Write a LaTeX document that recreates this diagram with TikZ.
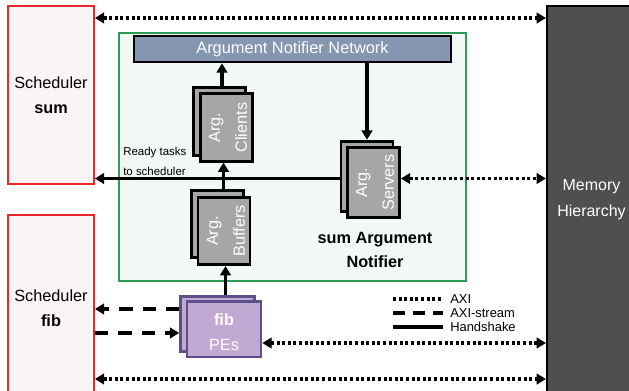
\documentclass[tikz,border=0pt]{standalone}
\usepackage{fontspec}
\setmainfont{Liberation Sans}
\usetikzlibrary{arrows.meta}
\definecolor{schedfill}{HTML}{FBF4F4}
\definecolor{schedline}{HTML}{E8262B}
\definecolor{greenfill}{HTML}{F2F8F4}
\definecolor{greenline}{HTML}{2E9A55}
\definecolor{netfill}{HTML}{8496B0}
\definecolor{memfill}{HTML}{4F4F4F}
\definecolor{grayfill}{HTML}{A6A6A6}
\definecolor{pefill}{HTML}{C2A9D3}
\definecolor{peline}{HTML}{5C5088}
\tikzset{
  sched/.style={draw=schedline, fill=schedfill, line width=1.3pt, align=center, font=\fontsize{12.2}{19}\selectfont, inner sep=0pt},
  graybox/.style={draw=black, fill=grayfill, line width=2.1pt, minimum width=39pt, minimum height=50.5pt, inner sep=0pt},
  graytext/.style={text=white, rotate=90, align=center, font=\fontsize{12.2}{20}\selectfont},
  pebox/.style={draw=peline, fill=pefill, line width=2pt, minimum width=55.5pt, minimum height=41.5pt, inner sep=0pt},
  tip/.style={},
  hs/.style={line width=2.8pt, -{Triangle[length=7pt,width=8pt]}},
  axi/.style={line width=2.8pt, dash pattern=on 2.2pt off 2pt, {Triangle[length=7pt,width=8pt]}-{Triangle[length=7pt,width=8pt]}},
  axis/.style={line width=2.8pt, dash pattern=on 10pt off 7.5pt, -{Triangle[length=7pt,width=8pt]}},
}
\begin{document}
\begin{tikzpicture}[x=0.75pt,y=-0.75pt]
\useasboundingbox (0,0) rectangle (629,391);
% outer blocks
\node[sched, minimum width=64.5pt, minimum height=133.5pt] (sumS) at (51,95) {Scheduler\\\textbf{sum}};
\node[sched, minimum width=64.5pt, minimum height=137.25pt] (fibS) at (51,306.5) {};
\node[font=\fontsize{12.2}{19}\selectfont, align=center] (fibT) at (51,308) {Scheduler\\\textbf{fib}};
\node[draw=black, fill=memfill, line width=1.6pt, minimum width=66pt, minimum height=294pt, inner sep=0pt] (mem) at (591,202) {};
\node[text=white, align=center, font=\fontsize{12}{19.5}\selectfont] (memT) at (591.5,200) {Memory\\Hierarchy};
% green notifier box
\node[draw=greenline, fill=greenfill, line width=1.3pt, minimum width=260.25pt, minimum height=186pt, inner sep=0pt] (notif) at (292.5,157) {};
\node[draw=black, fill=netfill, line width=2pt, minimum width=237.75pt, minimum height=19.5pt, inner sep=0pt, text=white, font=\fontsize{12.3}{14}\selectfont] (net) at (292.5,49) {Argument Notifier Network};
\node[align=center, font=\bfseries\fontsize{12.2}{18}\selectfont] (notifT) at (375,250) {sum Argument\\Notifier};
% clients
\node[graybox] (cliB) at (219.5,121.5) {};
\node[graybox] (cliF) at (226.5,127.5) {};
\node[graytext] (cliT) at (228,127.5) {Arg.\\Clients};
% buffers
\node[graybox] (bufB) at (217.5,224) {};
\node[graybox] (bufF) at (224,231) {};
\node[graytext] (bufT) at (226,231) {Arg.\\Buffers};
% servers
\node[graybox, minimum height=53pt] (srvB) at (367,176.5) {};
\node[graybox, minimum height=53pt] (srvF) at (373.5,182.5) {};
\node[graytext] (srvT) at (375,182.5) {Arg.\\Servers};
% PEs
\node[pebox] (peB) at (217.5,324) {};
\node[pebox] (peF) at (224,329.5) {};
\node[text=white, align=center, font=\fontsize{12.2}{19}\selectfont] (peT) at (224,332) {\textbf{fib}\\PEs};
% helper coordinates
\coordinate (ytop) at (0,18);
\coordinate (yrt) at (0,178.5);
\coordinate (ysa) at (0,309);
\coordinate (ysb) at (0,333);
\coordinate (ype) at (0,343);
\coordinate (ybot) at (0,379);
\coordinate (xc) at (222,0);
\coordinate (xb) at (223.5,0);
\coordinate (xp) at (225.5,0);
% handshake connectors
\draw[hs] (cliB.north -| xc) -- (net.south -| xc);
\draw[hs] (srvB.north |- net.south) -- (srvB.north);
\draw[hs] (bufB.north -| xb) -- (cliF.south -| xb);
\draw[hs] (peB.north -| xp) -- (bufF.south -| xp);
\draw[hs] (srvB.west |- yrt) -- (sumS.east |- yrt);
\node[anchor=south west, font=\fontsize{8.6}{10}\selectfont, inner sep=0pt] (rt1) at (123,158) {Ready tasks};
\node[anchor=south west, font=\fontsize{8.6}{10}\selectfont, inner sep=0pt] (rt2) at (123,176) {to scheduler};
% AXI connectors
\draw[axi] (sumS.east |- ytop) -- (mem.west |- ytop);
\draw[axi] (srvF.east |- yrt) -- (mem.west |- yrt);
\draw[axi] (peF.east |- ype) -- (mem.west |- ype);
\draw[axi] (fibS.east |- ybot) -- (mem.west |- ybot);
% AXI-stream
\draw[axis] (peB.west |- ysa) -- (fibS.east |- ysa);
\draw[axis] (fibS.east |- ysb) -- (peB.west |- ysb);
% legend
\coordinate (lg1) at (393,299);
\coordinate (lg2) at (393,313);
\coordinate (lg3) at (393,327);
\coordinate (lg1e) at (443,299);
\coordinate (lg2e) at (443,313);
\coordinate (lg3e) at (443,327);
\draw[line width=2.8pt, dash pattern=on 2.2pt off 2pt] (lg1) -- (lg1e);
\draw[line width=2.8pt, dash pattern=on 9pt off 6pt] (lg2) -- (lg2e);
\draw[line width=2.8pt] (lg3) -- (lg3e);
\node[anchor=west, font=\fontsize{9.7}{11}\selectfont, inner sep=0pt] (l1) at (450,299) {AXI};
\node[anchor=west, font=\fontsize{9.7}{11}\selectfont, inner sep=0pt] (l2) at (450,313) {AXI-stream};
\node[anchor=west, font=\fontsize{9.7}{11}\selectfont, inner sep=0pt] (l3) at (450,327) {Handshake};
\end{tikzpicture}
\end{document}
